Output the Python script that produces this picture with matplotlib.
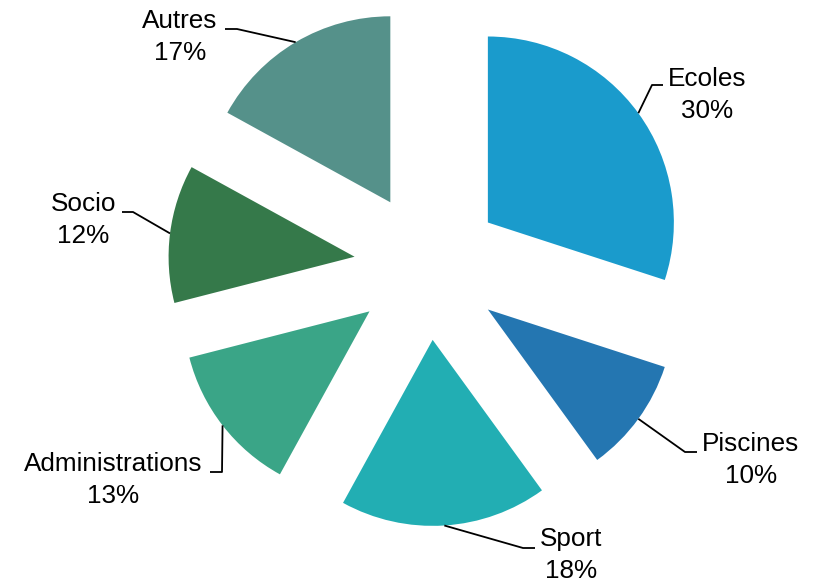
import numpy as np
import matplotlib
matplotlib.use("Agg")
import matplotlib.pyplot as plt

# ---- data ----
categories = ["Ecoles", "Piscines", "Sport", "Administrations", "Socio", "Autres"]
values = [30, 10, 18, 13, 12, 17]
colors = ["#1A9BCC", "#2476B1", "#22AEB3", "#3AA587", "#35794A", "#55918A"]

# ---- layout (pixel coordinates, y downward) ----
W, H = 825, 581
center_px = (428, 266)
radius_px = 186
explode_px = 74
# elbow point, end of horizontal tick, text centre
elbows = [(652, 85), (685, 452), (523, 548), (222, 472), (133, 212), (237, 29)]
ends = [(663, 85), (697, 452), (535, 548), (210, 472), (122, 212), (225, 29)]
text_pos = [(707, 95), (751, 460), (571, 555), (113, 480), (83.5, 220), (180, 37)]

def to_data(p):
    return (p[0], H - p[1])

fig = plt.figure(figsize=(W / 100, H / 100), dpi=100)
ax = fig.add_axes([0, 0, 1, 1])

cx, cy = to_data(center_px)
wedges, _ = ax.pie(values, colors=colors, startangle=90, counterclock=False,
                   radius=radius_px, center=(cx, cy),
                   explode=[explode_px] * len(values),
                   wedgeprops=dict(linewidth=0), frame=True)

for w, lab, val, el, en, tp in zip(wedges, categories, values, elbows, ends, text_pos):
    thm = np.deg2rad(0.5 * (w.theta1 + w.theta2))
    wx, wy = w.center
    sx = wx + w.r * np.cos(thm)
    sy = wy + w.r * np.sin(thm)
    ex, ey = to_data(el)
    nx, ny = to_data(en)
    ax.plot([sx, ex, nx], [sy, ey, ny], color="black", lw=1.3, solid_capstyle="butt")
    tx, ty = to_data(tp)
    ax.text(tx, ty, f"{lab}\n{val}%", ha="center", va="center",
            fontsize=18.8, family=["Liberation Sans", "DejaVu Sans"],
            linespacing=1.38, color="black")

ax.set_xlim(0, W)
ax.set_ylim(0, H)
ax.set_aspect("auto")
ax.axis("off")

fig.savefig("out.png", dpi=100)
